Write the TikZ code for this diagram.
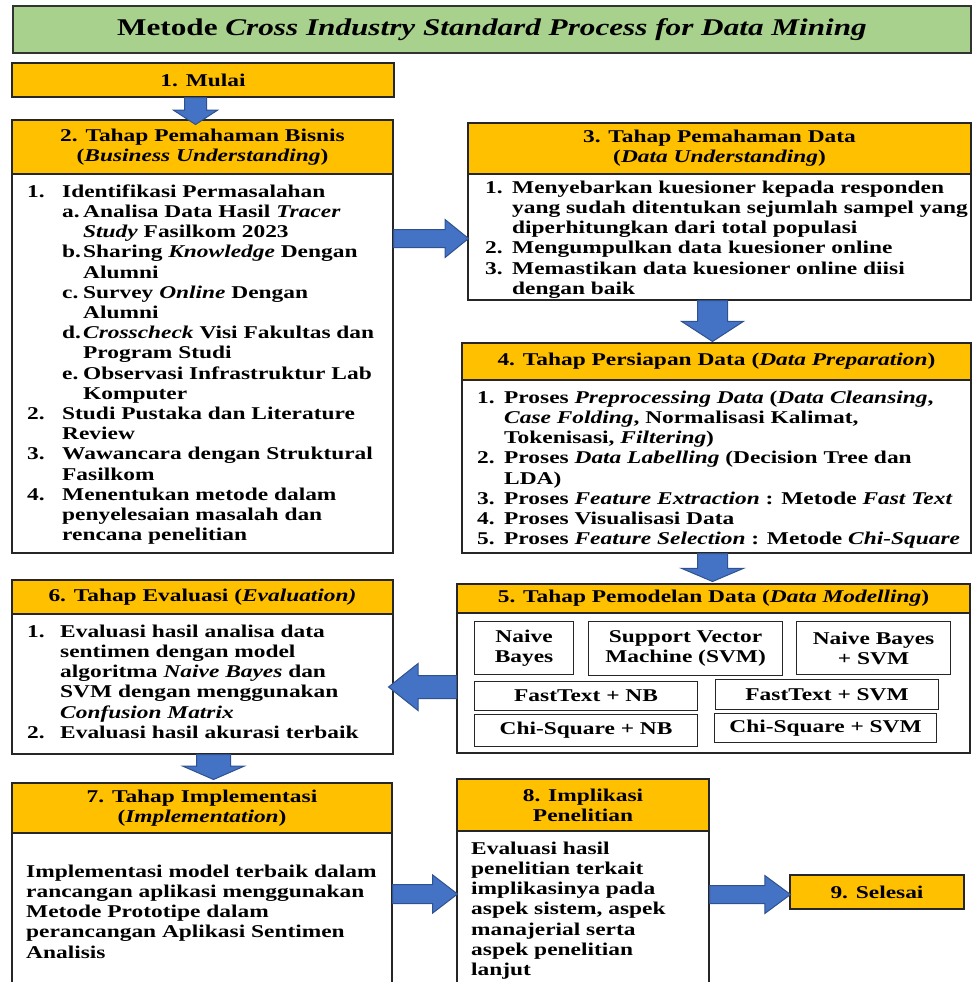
\documentclass[tikz,border=0pt]{standalone}
\usepackage{fontspec}
\setmainfont{Liberation Serif}[FakeStretch=1.3]
\usetikzlibrary{shapes.arrows,positioning,calc}
\definecolor{hdrorange}{HTML}{FFC000}
\definecolor{titlegreen}{HTML}{A9D18E}
\definecolor{arrowblue}{HTML}{4472C4}
\definecolor{arrowedge}{HTML}{2F528F}
\newcommand{\bodyfont}{\fontsize{18}{20.2}\selectfont\bfseries}
\newcommand{\lbl}[2]{\makebox[#1][l]{#2}}
\tikzstyle{hdr} = [rectangle,draw=black!85,line width=1.2pt,fill=hdrorange,align=center,font=\bodyfont,inner sep=0pt,outer sep=0pt,anchor=north west]
\tikzstyle{isi} = [rectangle,draw=black!85,line width=1.2pt,fill=white,inner sep=0pt,outer sep=0pt]

\begin{document}
\begin{tikzpicture}
		[x=1pt,y=-1pt,
		teks/.style={anchor=north west,align=left,inner sep=0pt,font=\bodyfont},
		modelbox/.style={rectangle,draw=black!85,line width=1.1pt,fill=white,align=center,font=\bodyfont,inner sep=0pt,anchor=north west},
		panah/.style={single arrow,draw=arrowedge,line width=1pt,fill=arrowblue,minimum width=0pt,anchor=tail},
		turun/.style={panah,shape border rotate=270,inner ysep=0pt,inner xsep=#1},
		kanan/.style={panah,shape border rotate=0,inner xsep=0pt,inner ysep=#1},
		kiri/.style={panah,shape border rotate=180,inner xsep=0pt,inner ysep=#1}
		]
		\useasboundingbox (0,0) rectangle (972,982);
		\clip (0,0) rectangle (972,982);
		\node[draw=black!80,line width=2pt,fill=titlegreen,minimum width=958pt,minimum height=47pt,inner sep=0pt,anchor=north west,font=\fontsize{24}{28}\selectfont\bfseries](judul) at (12,5) {Metode \textit{Cross Industry Standard Process for Data Mining}};

		\node[hdr,minimum width=382pt,minimum height=34pt](mulai) at (12,63) {1. Mulai};

		\node[hdr,minimum width=381pt,minimum height=54pt](bisnis) at (12,120) {2. Tahap Pemahaman Bisnis\\(\textit{Business Understanding})};
		\node[isi,minimum width=381pt,minimum height=379pt,below=0pt of bisnis](bisnis_isi) {};
		\node[teks](bisnis_teks) at ($(bisnis_isi.north west)+(15,9)$) {\strut\lbl{35pt}{1.}Identifikasi Permasalahan\\
			\hspace*{35pt}\lbl{21pt}{a.}Analisa Data Hasil \textit{Tracer}\\
			\hspace*{56pt}\textit{Study} Fasilkom 2023\\
			\hspace*{35pt}\lbl{21pt}{b.}Sharing \textit{Knowledge} Dengan\\
			\hspace*{56pt}Alumni\\
			\hspace*{35pt}\lbl{21pt}{c.}Survey \textit{Online} Dengan\\
			\hspace*{56pt}Alumni\\
			\hspace*{35pt}\lbl{21pt}{d.}\textit{Crosscheck} Visi Fakultas dan\\
			\hspace*{56pt}Program Studi\\
			\hspace*{35pt}\lbl{21pt}{e.}Observasi Infrastruktur Lab\\
			\hspace*{56pt}Komputer\\
			\lbl{35pt}{2.}Studi Pustaka dan Literature\\
			\hspace*{35pt}Review\\
			\lbl{35pt}{3.}Wawancara dengan Struktural\\
			\hspace*{35pt}Fasilkom\\
			\lbl{35pt}{4.}Menentukan metode dalam\\
			\hspace*{35pt}penyelesaian masalah dan\\
			\hspace*{35pt}rencana penelitian};

		\node[hdr,minimum width=503pt,minimum height=51pt](data) at (468,123) {3. Tahap Pemahaman Data\\(\textit{Data Understanding})};
		\node[isi,minimum width=503pt,minimum height=126pt,below=0pt of data](data_isi) {};
		\node[teks](data_teks) at ($(data_isi.north west)+(17,5)$) {\strut\lbl{27pt}{1.}Menyebarkan kuesioner kepada responden\\
			\hspace*{27pt}yang sudah ditentukan sejumlah sampel yang\\
			\hspace*{27pt}diperhitungkan dari total populasi\\
			\lbl{27pt}{2.}Mengumpulkan data kuesioner online\\
			\lbl{27pt}{3.}Memastikan data kuesioner online diisi\\
			\hspace*{27pt}dengan baik};

		\node[hdr,minimum width=509pt,minimum height=37pt](persiapan) at (462,343) {4. Tahap Persiapan Data (\textit{Data Preparation})};
		\node[isi,minimum width=509pt,minimum height=173pt,below=0pt of persiapan](persiapan_isi) {};
		\node[teks](persiapan_teks) at ($(persiapan_isi.north west)+(15,9)$) {\strut\lbl{27pt}{1.}Proses \textit{Preprocessing Data} (\textit{Data Cleansing},\\
			\hspace*{27pt}\textit{Case Folding}, Normalisasi Kalimat,\\
			\hspace*{27pt}Tokenisasi, \textit{Filtering})\\
			\lbl{27pt}{2.}Proses \textit{Data Labelling} (Decision Tree dan\\
			\hspace*{27pt}LDA)\\
			\lbl{27pt}{3.}Proses \textit{Feature Extraction} : Metode \textit{Fast Text}\\
			\lbl{27pt}{4.}Proses Visualisasi Data\\
			\lbl{27pt}{5.}Proses \textit{Feature Selection} : Metode \textit{Chi-Square}};

		\node[hdr,minimum width=513pt,minimum height=29pt](pemodelan) at (457,584) {5. Tahap Pemodelan Data (\textit{Data Modelling})};
		\node[isi,minimum width=513pt,minimum height=140pt,below=0pt of pemodelan](pemodelan_isi) {};
		\node[modelbox,minimum width=99pt,minimum height=53pt](nb) at ($(pemodelan_isi.north west)+(17,8)$) {Naive\\Bayes};
		\node[modelbox,minimum width=194pt,minimum height=54pt](svm) at ($(pemodelan_isi.north west)+(131,8)$) {Support Vector\\Machine (SVM)};
		\node[modelbox,minimum width=154pt,minimum height=53pt](nb_svm) at ($(pemodelan_isi.north west)+(339,8)$) {Naive Bayes\\+ SVM};
		\node[modelbox,minimum width=223pt,minimum height=29pt](ft_nb) at ($(pemodelan_isi.north west)+(17,68)$) {FastText + NB};
		\node[modelbox,minimum width=223pt,minimum height=30pt](ft_svm) at ($(pemodelan_isi.north west)+(258,66)$) {FastText + SVM};
		\node[modelbox,minimum width=223pt,minimum height=32pt](cs_nb) at ($(pemodelan_isi.north west)+(17,101)$) {Chi-Square + NB};
		\node[modelbox,minimum width=222pt,minimum height=29pt](cs_svm) at ($(pemodelan_isi.north west)+(257,100)$) {Chi-Square + SVM};

		\node[hdr,minimum width=381pt,minimum height=34pt](evaluasi) at (12,580) {6. Tahap Evaluasi (\textit{Evaluation)}};
		\node[isi,minimum width=381pt,minimum height=140pt,below=0pt of evaluasi](evaluasi_isi) {};
		\node[teks](evaluasi_teks) at ($(evaluasi_isi.north west)+(15,9)$) {\strut\lbl{33pt}{1.}Evaluasi hasil analisa data\\
			\hspace*{33pt}sentimen dengan model\\
			\hspace*{33pt}algoritma \textit{Naive Bayes} dan\\
			\hspace*{33pt}SVM dengan menggunakan\\
			\hspace*{33pt}\textit{Confusion Matrix}\\
			\lbl{33pt}{2.}Evaluasi hasil akurasi terbaik};

		\node[hdr,minimum width=380pt,minimum height=50pt](implementasi) at (12,783) {7. Tahap Implementasi\\(\textit{Implementation})};
		\node[isi,minimum width=380pt,minimum height=160pt,below=0pt of implementasi](implementasi_isi) {};
		\node[teks](implementasi_teks) at ($(implementasi_isi.north west)+(14,30)$) {\strut Implementasi model terbaik dalam\\
			rancangan aplikasi menggunakan\\
			Metode Prototipe dalam\\
			perancangan Aplikasi Sentimen\\
			Analisis};

		\node[hdr,minimum width=252pt,minimum height=52pt](implikasi) at (457,779) {8. Implikasi\\Penelitian};
		\node[isi,minimum width=252pt,minimum height=160pt,below=0pt of implikasi](implikasi_isi) {};
		\node[teks](implikasi_teks) at ($(implikasi_isi.north west)+(14,9)$) {\strut Evaluasi hasil\\
			penelitian terkait\\
			implikasinya pada\\
			aspek sistem, aspek\\
			manajerial serta\\
			aspek penelitian\\
			lanjut};

		\node[hdr,minimum width=174pt,minimum height=34pt](selesai) at (790,875) {9. Selesai};

		\node[turun=10.5pt,minimum height=27pt,single arrow head extend=11pt,single arrow tip angle=114](p12) at ($(mulai.south west)+(183.5,0)$) {};
		\node[kanan=8.5pt,minimum height=75pt,single arrow head extend=10pt,single arrow tip angle=78](p23) at ($(bisnis.north east)+(0,118.5)$) {};
		\node[turun=14.5pt,minimum height=41pt,single arrow head extend=16pt,single arrow tip angle=114](p34) at ($(data_isi.south west)+(244.5,0)$) {};
		\node[turun=14.5pt,minimum height=28pt,single arrow head extend=16pt,single arrow tip angle=134](p45) at ($(persiapan_isi.south west)+(250.5,0)$) {};
		\node[kiri=11pt,minimum height=68pt,single arrow head extend=12pt,single arrow tip angle=77](p56) at ($(pemodelan.north west)+(0,103)$) {};
		\node[turun=16.5pt,minimum height=25pt,single arrow head extend=13.5pt,single arrow tip angle=133](p67) at ($(evaluasi_isi.south west)+(201.5,0)$) {};
		\node[kanan=9pt,minimum height=65pt,single arrow head extend=9.5pt,single arrow tip angle=75](p78) at ($(implementasi.north east)+(0,111)$) {};
		\node[kanan=8.5pt,minimum height=81pt,single arrow head extend=10pt,single arrow tip angle=73](p89) at ($(implikasi.north east)+(0,115.5)$) {};
\end{tikzpicture}
\end{document}
